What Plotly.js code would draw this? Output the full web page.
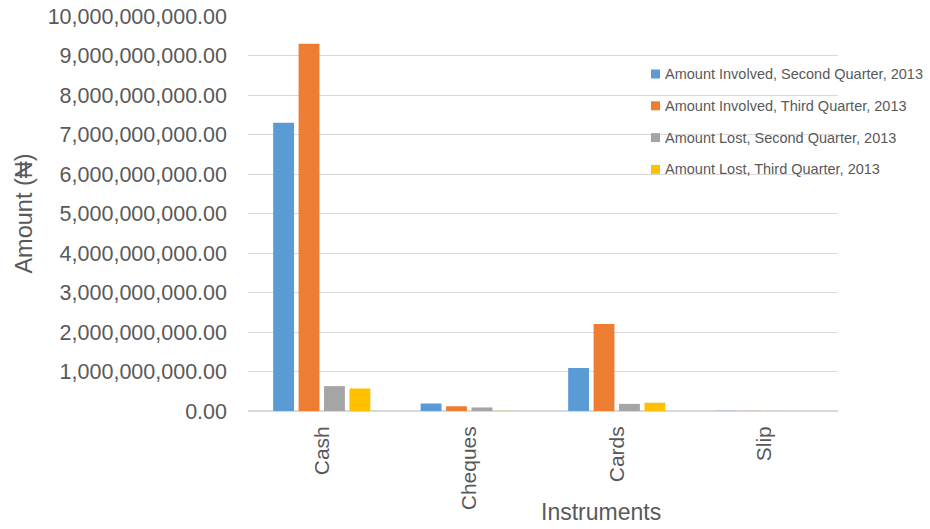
<!DOCTYPE html>
<html>
<head>
<meta charset="utf-8">
<script src="https://cdn.plot.ly/plotly-3.0.1.min.js"></script>
<style>html,body{margin:0;padding:0;background:#fff;}#chart{width:930px;height:529px;}</style>
</head>
<body>
<div id="chart"></div>
<script>
const categories = ["Cash", "Cheques", "Cards", "Slip"];
const seriesNames = [
  "Amount Involved, Second Quarter, 2013",
  "Amount Involved, Third Quarter, 2013",
  "Amount Lost, Second Quarter, 2013",
  "Amount Lost, Third Quarter, 2013"
];
const involvedQ2 = [7300000000, 190000000, 1090000000, 5000000];
const involvedQ3 = [9300000000, 120000000, 2200000000, 4000000];
const lostQ2 = [630000000, 90000000, 180000000, 2000000];
const lostQ3 = [570000000, 3000000, 210000000, 1000000];
const colors = ["#5b9bd5", "#ed7d31", "#a5a5a5", "#ffc000"];

const seriesValues = [involvedQ2, involvedQ3, lostQ2, lostQ3];
const font = "Liberation Sans, Arial, sans-serif";

const traces = seriesValues.map((v, i) => ({
  type: "bar",
  name: seriesNames[i],
  x: categories,
  y: v,
  marker: {color: colors[i]},
  hoverinfo: "x+y+name"
}));

// custom legend (small squares close to text, as in the reference)
const W = 590, H = 395;             // plot area size in px
const legX = (651 - 248) / W;       // left of marker
const legY0 = (411 - 74) / H;       // first item centre
const legStep = 31.8 / H;
const sq = 9;
const shapes = [], annotations = [];
seriesNames.forEach((name, i) => {
  const yc = legY0 - i * legStep;
  shapes.push({
    type: "rect", xref: "paper", yref: "paper",
    x0: legX, x1: legX + sq / W,
    y0: yc - (sq / 2) / H, y1: yc + (sq / 2) / H,
    fillcolor: colors[i], line: {width: 0}
  });
  annotations.push({
    text: name, xref: "paper", yref: "paper",
    x: legX + (sq + 3) / W, y: yc, xanchor: "left", yanchor: "middle",
    showarrow: false, font: {size: 14.5, color: "#595959", family: font}
  });
});
annotations.push({
  text: "Instruments", xref: "paper", yref: "paper",
  x: (601 - 248) / W, y: (411 - 512) / H, xanchor: "center", yanchor: "middle",
  showarrow: false, font: {size: 23, color: "#595959", family: font}
});

const layout = {
  width: 930, height: 529,
  margin: {l: 248, r: 92, t: 16, b: 118, autoexpand: false},
  paper_bgcolor: "#fff", plot_bgcolor: "#fff",
  barmode: "group",
  bargap: 0.31,
  bargroupgap: 0.18,
  font: {family: font, color: "#595959"},
  showlegend: false,
  xaxis: {
    type: "category",
    tickangle: -90,
    tickfont: {size: 21, color: "#595959", family: font},
    ticklabelstandoff: 10,
    showgrid: false,
    showline: false,
    ticks: "",
    automargin: false,
    fixedrange: true
  },
  yaxis: {
    range: [0, 10000000000],
    dtick: 1000000000,
    tickformat: ",.2f",
    tickfont: {size: 21.5, color: "#595959", family: font},
    ticklabelstandoff: 20,
    showgrid: true, gridcolor: "#d9d9d9", gridwidth: 1,
    zeroline: true, zerolinecolor: "#d9d9d9", zerolinewidth: 2,
    showline: false,
    ticks: "",
    automargin: false,
    title: {text: "Amount (₦)", font: {size: 23.5, color: "#595959", family: font}, standoff: 8},
    fixedrange: true
  },
  shapes: shapes,
  annotations: annotations
};

Plotly.newPlot("chart", traces, layout, {displayModeBar: false, staticPlot: true});
</script>
</body>
</html>
